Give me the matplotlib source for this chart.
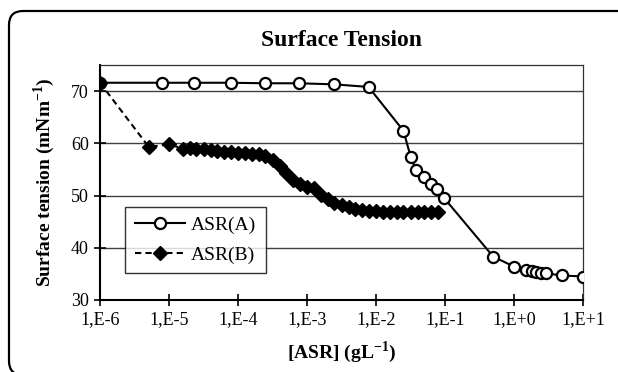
import matplotlib
matplotlib.use("Agg")
import matplotlib.pyplot as plt
from matplotlib.patches import FancyBboxPatch
from matplotlib.ticker import FixedLocator, NullLocator
from matplotlib.transforms import IdentityTransform

plt.rcParams["font.family"] = ["Liberation Serif", "DejaVu Serif"]
plt.rcParams["mathtext.fontset"] = "custom"
plt.rcParams["mathtext.rm"] = "Liberation Serif"
plt.rcParams["mathtext.bf"] = "Liberation Serif:bold"

# ASR(A): concentration (g/L) and surface tension (mN/m)
conc_a = [1e-6, 8e-6, 2.3e-5, 7.8e-5, 2.5e-4, 7.6e-4, 2.45e-3, 7.8e-3,
          0.025, 0.032, 0.038, 0.049, 0.063, 0.077, 0.096,
          0.5, 1.0, 1.5, 1.8, 2.1, 2.5, 2.9, 5.0, 10.0]
tension_a = [71.6, 71.6, 71.6, 71.6, 71.5, 71.5, 71.3, 70.8,
             62.4, 57.3, 54.9, 53.5, 52.2, 51.2, 49.6,
             38.3, 36.4, 35.7, 35.5, 35.3, 35.2, 35.1, 34.7, 34.5]

# ASR(B)
conc_b = [1e-6, 5.1e-6, 1e-5,
          1.6e-5, 2.0e-5, 2.5e-5, 3.2e-5, 4.0e-5, 5.0e-5, 6.3e-5, 7.9e-5,
          1.0e-4, 1.26e-4, 1.58e-4, 2.0e-4, 2.5e-4, 3.2e-4, 4.0e-4, 5.0e-4,
          6.3e-4, 7.9e-4, 1.0e-3, 1.26e-3, 1.58e-3, 2.0e-3, 2.5e-3, 3.2e-3,
          4.0e-3, 5.0e-3, 6.3e-3, 7.9e-3, 1.0e-2, 1.26e-2, 1.58e-2, 2.0e-2,
          2.5e-2, 3.2e-2, 4.0e-2, 5.0e-2, 6.3e-2, 7.9e-2]
tension_b = [71.6, 59.3, 59.8,
             59.0, 59.2, 58.9, 59.0, 58.7, 58.5, 58.4, 58.3,
             58.2, 58.2, 58.0, 57.9, 57.5, 56.8, 55.6, 54.3,
             53.0, 52.2, 51.7, 51.4, 50.2, 49.3, 48.6, 48.1,
             47.8, 47.5, 47.3, 47.1, 47.0, 46.9, 46.9, 46.9,
             46.9, 46.9, 46.9, 46.9, 46.9, 46.9]

x_ticks = [1e-6, 1e-5, 1e-4, 1e-3, 1e-2, 1e-1, 1e0, 1e1]
x_tick_labels = ["1,E-6", "1,E-5", "1,E-4", "1,E-3", "1,E-2", "1,E-1", "1,E+0", "1,E+1"]
y_ticks = [30, 40, 50, 60, 70]

W, H = 618, 372
fig = plt.figure(figsize=(W / 100, H / 100), dpi=100)
ax = fig.add_axes([100 / W, 1 - 300 / H, 483 / W, 235 / H])

ax.plot(conc_a, tension_a, "-o", color="black", lw=1.5, ms=8, mew=1.6,
        mfc="white", mec="black", label="ASR(A)", zorder=3)
ax.plot(conc_b, tension_b, color="black", lw=1.5, ls=(0, (3, 2)), marker="D",
        ms=7.5, mfc="black", mec="black", label="ASR(B)", zorder=4)

ax.set_xscale("log")
ax.set_xlim(1e-6, 1e1)
ax.set_ylim(30, 75)
ax.xaxis.set_major_locator(FixedLocator(x_ticks))
ax.xaxis.set_minor_locator(NullLocator())
ax.set_xticklabels(x_tick_labels)
ax.set_yticks(y_ticks)
ax.tick_params(axis="both", direction="inout", length=8, width=1.2,
               labelsize=13, color="black", pad=4)

for y in y_ticks[1:]:
    ax.axhline(y, color="0.25", lw=1.0, zorder=1)

for side in ("left", "bottom"):
    ax.spines[side].set_linewidth(1.5)
for side in ("top", "right"):
    ax.spines[side].set_linewidth(0.9)
    ax.spines[side].set_color("0.2")

ax.set_xlabel(r"[ASR] (gL$^{\mathbf{-1}}$)", fontsize=14, fontweight="bold", labelpad=8)
ax.set_ylabel(r"Surface tension (mNm$^{\mathbf{-1}}$)", fontsize=14,
              fontweight="bold", labelpad=10)

leg = ax.legend(loc="upper left", bbox_to_anchor=(0.052, 0.396), borderaxespad=0,
                fontsize=14, frameon=True, fancybox=False, handlelength=2.6,
                borderpad=0.5, labelspacing=0.6, handletextpad=0.3)
leg.get_frame().set_edgecolor("black")
leg.get_frame().set_linewidth(1.0)

fig.text(341.5 / W, 1 - 41 / H, "Surface Tension", ha="center", va="center",
         fontsize=17, fontweight="bold")

# rounded outer frame
frame = FancyBboxPatch((9, -3), 630, 364, boxstyle="round,pad=0,rounding_size=14",
                       transform=IdentityTransform(), fill=False, lw=1.6,
                       ec="black")
fig.add_artist(frame)

fig.savefig("out.png", dpi=100)
